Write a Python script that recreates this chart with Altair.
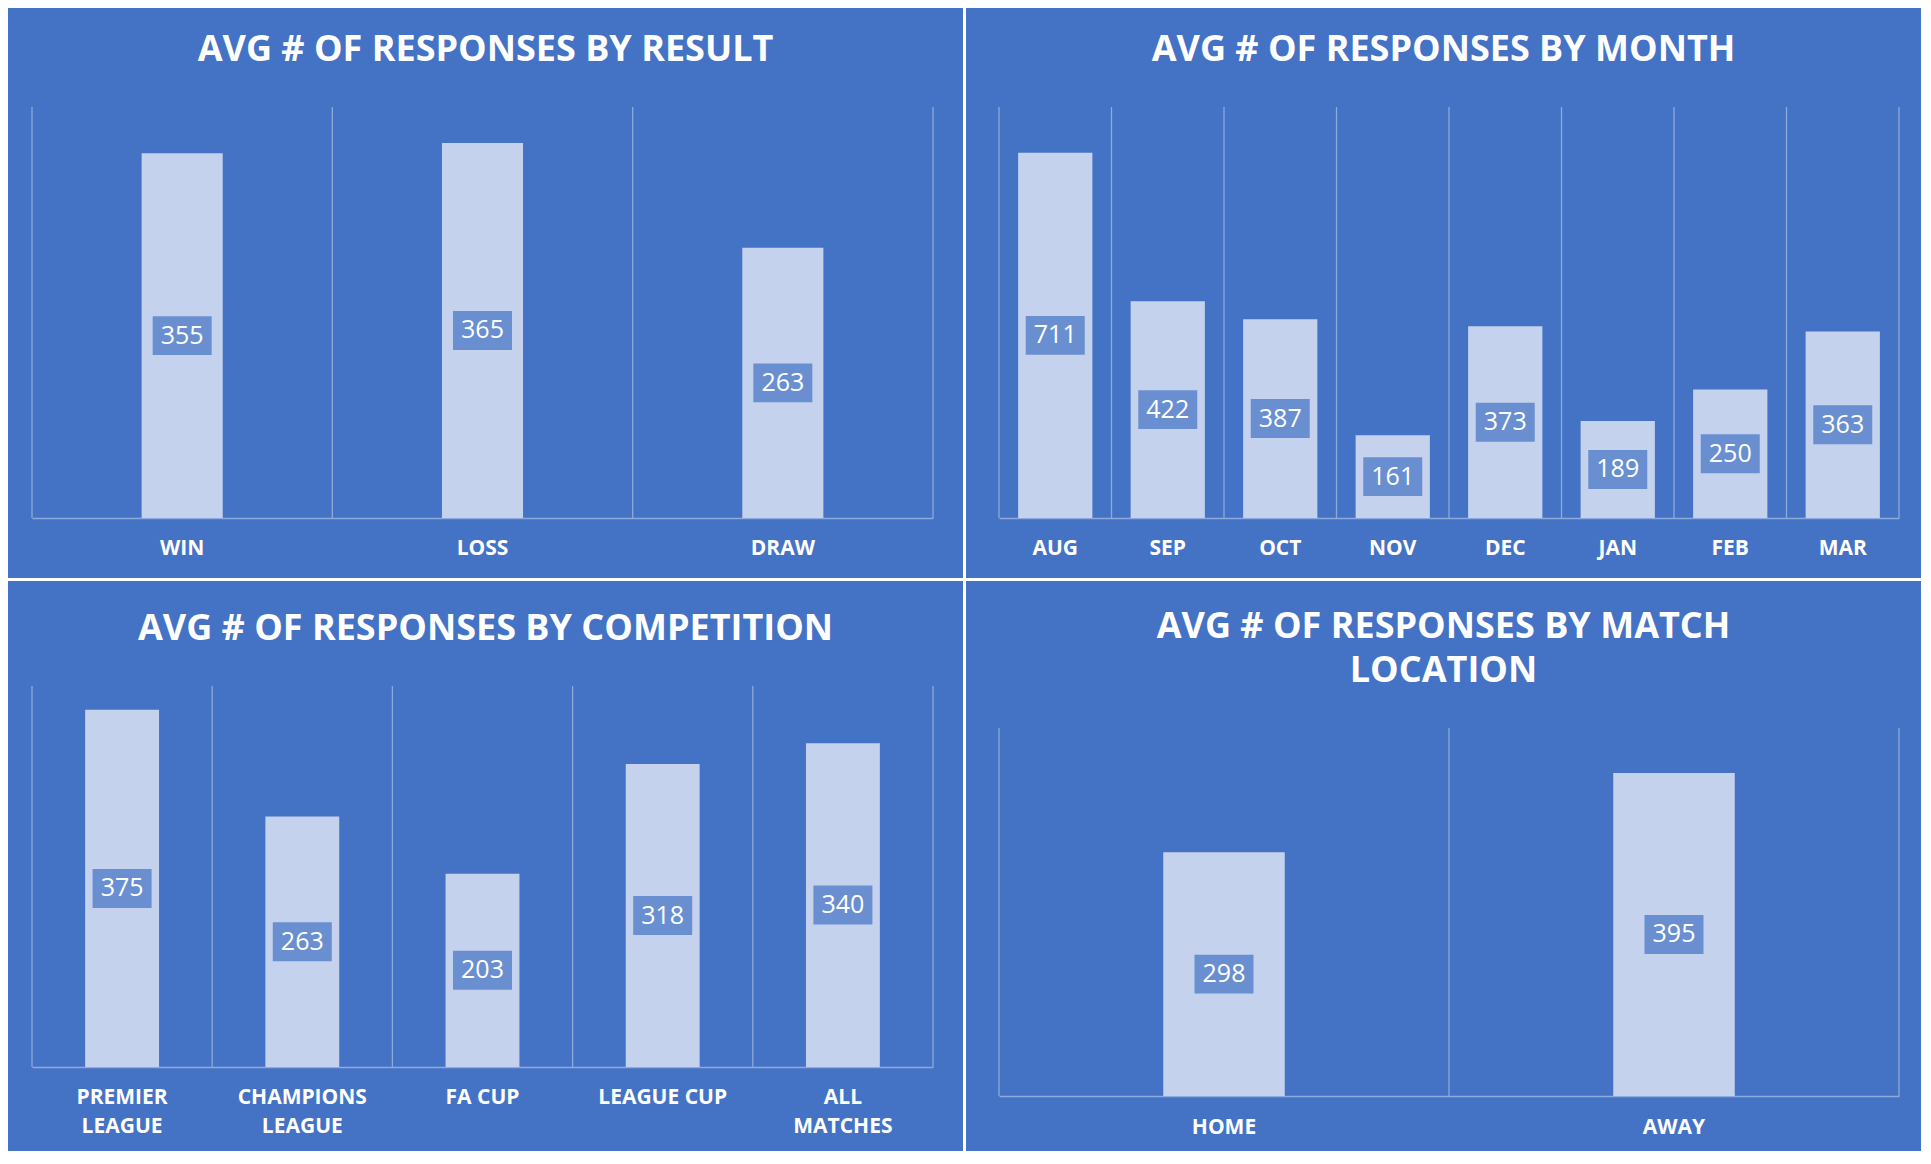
import pandas as pd
import altair as alt

BLUE = "#4472C4"
GRID = "#8ea9db"
BAR_FILL = "#c4d2ee"
FONT = "Open Sans"
W, H = 955, 570

# data
result_cats = ["WIN", "LOSS", "DRAW"]
result_vals = [355, 365, 263]

month_cats = ["AUG", "SEP", "OCT", "NOV", "DEC", "JAN", "FEB", "MAR"]
month_vals = [711, 422, 387, 161, 373, 189, 250, 363]

comp_cats = ["PREMIER\nLEAGUE", "CHAMPIONS\nLEAGUE", "FA CUP", "LEAGUE CUP", "ALL\nMATCHES"]
comp_vals = [375, 263, 203, 318, 340]

loc_cats = ["HOME", "AWAY"]
loc_vals = [298, 395]

# rectangle used as data label box
BOX = "M-1,-0.66L1,-0.66L1,0.66L-1,0.66Z"


def make_panel(title, cats, vals, ymax, band, xr, top, base, label_y, title_y):
    df = pd.DataFrame({"cat": cats, "value": vals})
    x_scale = alt.Scale(domain=cats, range=xr, paddingInner=0, paddingOuter=0)
    y_scale = alt.Scale(domain=[0, ymax], range=[base, top])
    x_axis = alt.Axis(labels=False, ticks=False, grid=False, title=None,
                      domainColor=GRID, domainWidth=1.5, offset=base - H)

    grid = alt.Chart(df).mark_rule(color=GRID, strokeWidth=1.3).encode(
        x=alt.X("cat:N", scale=x_scale, bandPosition=0, axis=x_axis),
        y=alt.value(top),
        y2=alt.value(base),
    )
    grid_end = alt.Chart(df.tail(1)).mark_rule(color=GRID, strokeWidth=1.3).encode(
        x=alt.X("cat:N", scale=x_scale, bandPosition=1, axis=x_axis),
        y=alt.value(top),
        y2=alt.value(base),
    )
    bars = alt.Chart(df).mark_bar(width=alt.RelativeBandSize(band), fill=BAR_FILL).encode(
        x=alt.X("cat:N", scale=x_scale, axis=x_axis),
        y=alt.Y("value:Q", scale=y_scale, axis=None),
    )
    mid = alt.Chart(df).transform_calculate(mid="datum.value / 2").encode(
        x=alt.X("cat:N", scale=x_scale, axis=x_axis),
        y=alt.Y("mid:Q", scale=y_scale, axis=None),
    )
    box = mid.mark_point(shape=BOX, filled=True, size=3481, color=BLUE, opacity=0.7, strokeWidth=0)
    val_text = mid.mark_text(color="white", font=FONT, fontSize=25, baseline="middle").encode(
        text="value:Q"
    )
    labels = alt.Chart(df).mark_text(
        color="white", font=FONT, fontWeight="bold", fontSize=21,
        lineBreak="\n", lineHeight=29, baseline="middle"
    ).encode(
        x=alt.X("cat:N", scale=x_scale, axis=x_axis),
        y=alt.value(label_y),
        text="cat:N",
    )
    head = alt.Chart(pd.DataFrame({"t": [title]})).mark_text(
        color="white", font=FONT, fontWeight="bold", fontSize=36,
        lineBreak="\n", lineHeight=44, baseline="middle"
    ).encode(
        x=alt.value(W / 2),
        y=alt.value(title_y),
        text="t:N",
    )
    return alt.layer(grid, grid_end, bars, box, val_text, labels, head).properties(width=W, height=H)


LEFT = [24, 925]
RIGHT = [33, 933]

p1 = make_panel("AVG # OF RESPONSES BY RESULT", result_cats, result_vals, 400, 0.27, LEFT, 99, 510, 541, 42)
p2 = make_panel("AVG # OF RESPONSES BY MONTH", month_cats, month_vals, 800, 0.66, RIGHT, 99, 510, 541, 42)
p3 = make_panel("AVG # OF RESPONSES BY COMPETITION", comp_cats, comp_vals, 400, 0.41, LEFT, 105, 486, 517, 48)
p4 = make_panel("AVG # OF RESPONSES BY MATCH\nLOCATION", loc_cats, loc_vals, 450, 0.27, RIGHT, 147, 515, 547, 46)

chart = alt.vconcat(
    alt.hconcat(p1, p2, spacing=3),
    alt.hconcat(p3, p4, spacing=3),
    spacing=3,
).properties(padding=0).configure(
    background="white",
    view=alt.ViewConfig(fill=BLUE, strokeWidth=0),
)

chart.save("out.html", embed_options={"renderer": "svg", "actions": False})
